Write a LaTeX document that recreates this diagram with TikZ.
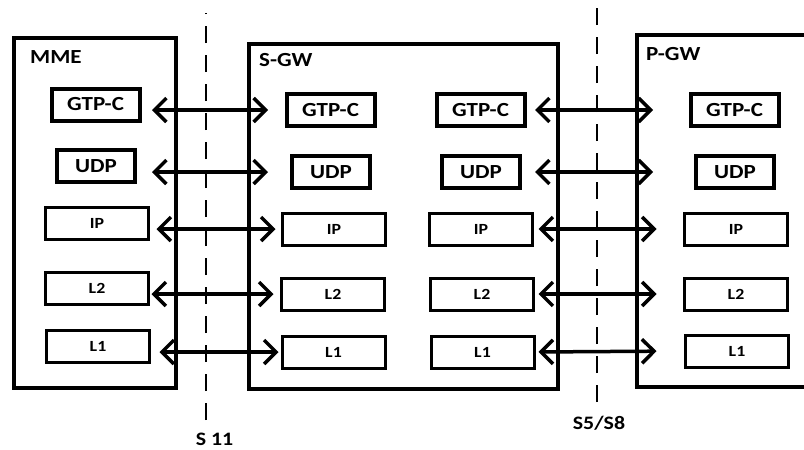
\documentclass[tikz,border=0pt]{standalone}
\usepackage{fontspec}
\setmainfont{Carlito}[FakeStretch=1.15]
\usetikzlibrary{arrows.meta,calc}
\tikzset{
  entity/.style={draw, line width=4pt, inner sep=0pt},
  title/.style={anchor=west, inner sep=0pt, font=\fontsize{20}{24}\selectfont\bfseries},
  gtpbox/.style={draw, line width=4pt, inner sep=0pt, minimum width=88pt,
                 minimum height=32pt, font=\fontsize{20}{24}\selectfont\bfseries},
  udpbox/.style={gtpbox, minimum width=78pt},
  lbox/.style={draw, line width=3pt, inner sep=0pt, minimum width=103pt,
               minimum height=32pt, font=\fontsize{15.5}{18}\selectfont\bfseries},
  link/.style={line width=3.5pt,
               {Straight Barb[length=12pt,width=24pt]}-{Straight Barb[length=12pt,width=24pt]}},
  cut/.style={line width=1.4pt, dash pattern=on 17pt off 12pt},
  iface/.style={inner sep=0pt, font=\fontsize{19}{22}\selectfont\bfseries},
}

\begin{document}
\begin{tikzpicture}[x=1pt,y=-1pt]
\path[use as bounding box, clip] (0,0) rectangle (804,450);
% reference points (interfaces)
\coordinate (s11a) at (206,13);
\coordinate (s11b) at (206,420);
\coordinate (s5a) at (597,7);
\coordinate (s5b) at (597,402);
\draw[cut] (s11b) -- (s11a);
\draw[cut] (s5b) -- (s5a);
\node[iface] (s11) at (214.5,439) {S 11};
\node[iface] (s5) at (599,423) {S5/S8};
% network elements
\node[entity, minimum width=162pt, minimum height=350pt] (mme) at (95,213) {};
\node[entity, minimum width=309pt, minimum height=345pt] (sgw) at (403.5,216.5) {};
\node[entity, minimum width=191pt, minimum height=352pt] (pgw) at (732.5,211) {};
\node[title] at ($(mme.north west)+(18,21)$) {MME};
\node[title] at ($(sgw.north west)+(12,18)$) {S-GW};
\node[title] at ($(pgw.north west)+(11,21)$) {P-GW};
% MME stack
\node[gtpbox] (mgtp) at (95.5,104.5) {GTP-C};
\node[udpbox] (mudp) at (96,166) {UDP};
\node[lbox] (mip) at (97,223) {IP};
\node[lbox] (ml2) at (97,288) {L2};
\node[lbox] (ml1) at (98,346) {L1};
% S-GW stack, S11 side
\node[gtpbox] (sgtp) at (330.5,110) {GTP-C};
\node[udpbox] (sudp) at (331,172) {UDP};
\node[lbox] (sip) at (334,229) {IP};
\node[lbox] (sl2) at (333,294) {L2};
\node[lbox] (sl1) at (333.5,352) {L1};
% S-GW stack, S5/S8 side
\node[gtpbox] (rgtp) at (480.5,110) {GTP-C};
\node[udpbox] (rudp) at (481,172) {UDP};
\node[lbox] (rip) at (481,229) {IP};
\node[lbox] (rl2) at (482,294) {L2};
\node[lbox] (rl1) at (482.5,352) {L1};
% P-GW stack
\node[gtpbox] (pgtp) at (734.5,110) {GTP-C};
\node[udpbox] (pudp) at (735,172) {UDP};
\node[lbox] (pip) at (736,229) {IP};
\node[lbox] (pl2) at (736,294) {L2};
\node[lbox] (pl1) at (737,351) {L1};
% peer links
\draw[link, shorten <=10.5pt, shorten >=16.5pt] (mgtp.east |- sgtp) -- (sgtp.west);
\draw[link, shorten <=15pt, shorten >=22pt] (mudp.east |- sudp) -- (sudp.west);
\draw[link, shorten <=6.5pt, shorten >=5.5pt] (mip.east |- sip) -- (sip.west);
\draw[link, shorten <=1.5pt, shorten >=6.5pt] (ml2.east |- sl2) -- (sl2.west);
\draw[link, shorten <=8.5pt, shorten >=2pt] (ml1.east |- sl1) -- (sl1.west);
\draw[link, shorten <=8.5pt, shorten >=35.5pt] (rgtp.east) -- (pgtp.west);
\draw[link, shorten <=13pt, shorten >=41pt] (rudp.east) -- (pudp.west);
\draw[link, shorten <=4.5pt, shorten >=26.5pt] (rip.east) -- (pip.west);
\draw[link, shorten <=3.5pt, shorten >=26.5pt] (rl2.east) -- (pl2.west);
\draw[link, shorten <=3pt, shorten >=27.5pt] (rl1.east) -- (pl1.west);
\end{tikzpicture}
\end{document}
